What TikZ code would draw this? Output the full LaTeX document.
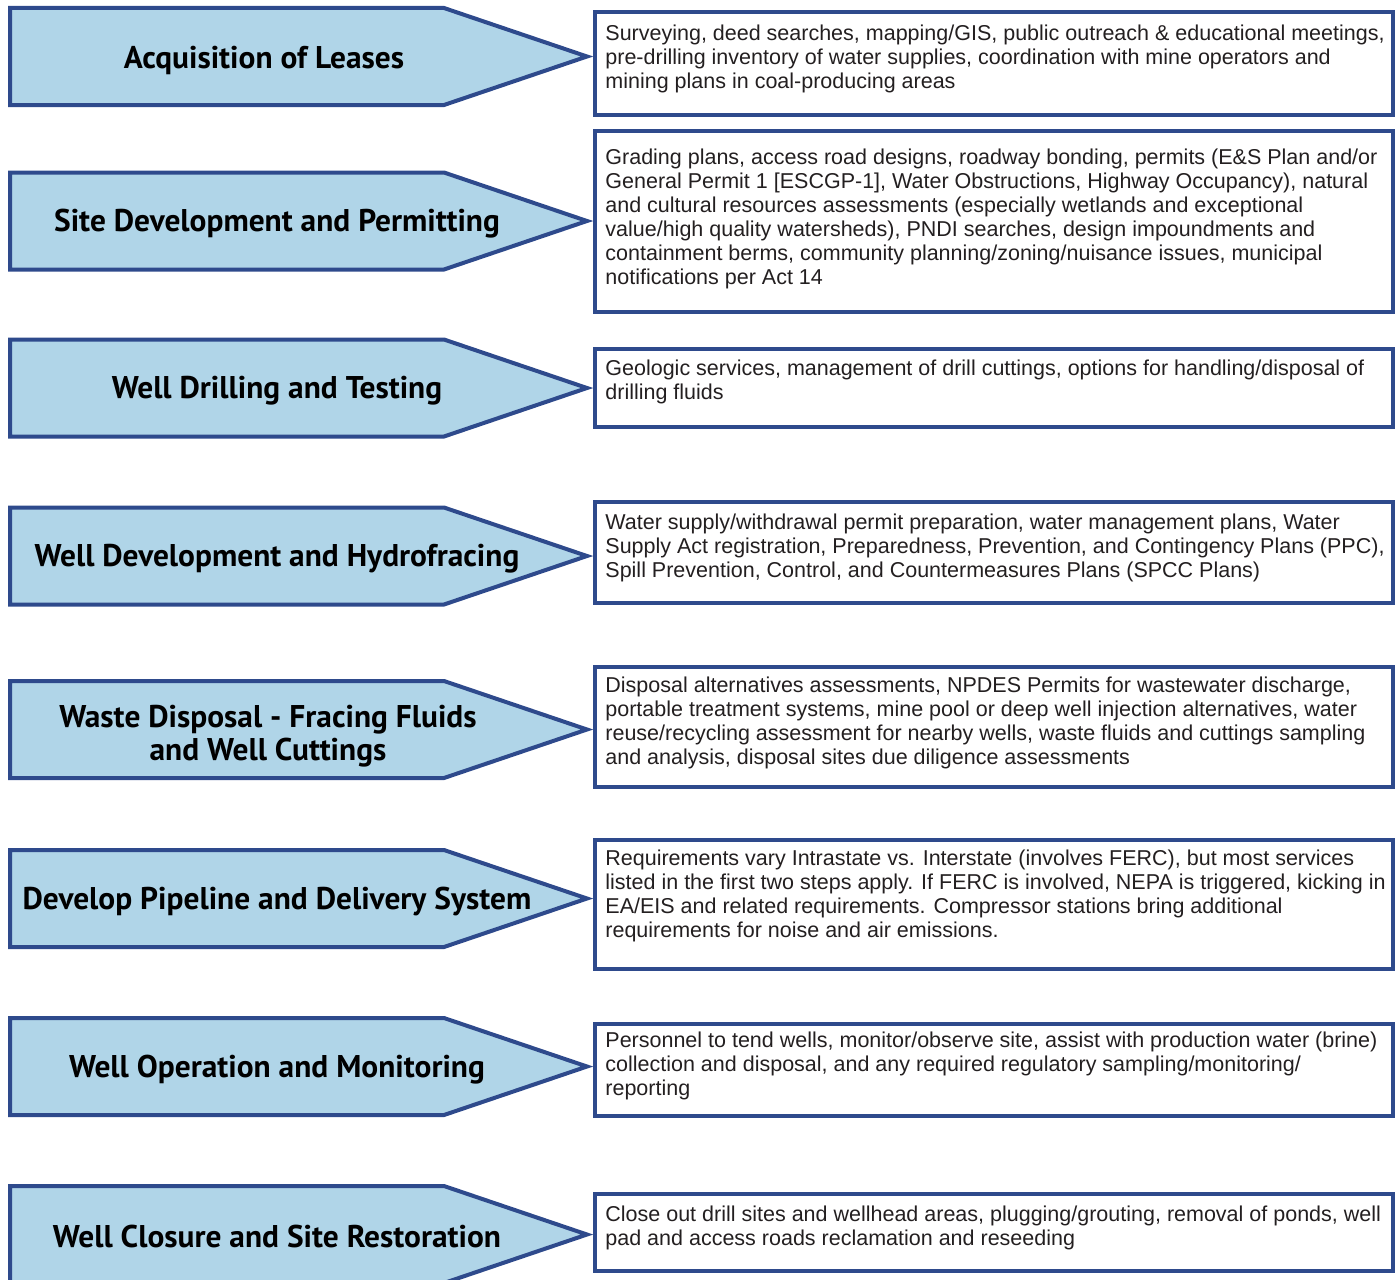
\documentclass[tikz,border=0pt]{standalone}
\usepackage{fontspec}
\setmainfont{Liberation Sans}
\newfontfamily\labelfont{PT Sans}
\usetikzlibrary{positioning}

\definecolor{phasefill}{HTML}{B0D5E8}
\definecolor{phaseline}{HTML}{2E4A8C}
\definecolor{desccol}{HTML}{231F20}

\begin{document}
\begin{tikzpicture}[x=0.5pt,y=0.5pt,
    phase/.style={draw=phaseline,line width=2pt,fill=phasefill,line join=miter},
    phaselabel/.style={font={\labelfont\bfseries\fontsize{15.7pt}{16.5pt}\selectfont},inner sep=0pt,align=center},
    descbox/.style={draw=phaseline,line width=2pt,anchor=north west,outer sep=0pt,inner sep=0pt,minimum width=399pt},
    desctext/.style={font={\fontsize{10.75pt}{12pt}\selectfont},text=desccol,align=left,inner sep=0pt}]
    \useasboundingbox (0,0) rectangle (1400,-1279);

    % the eight phases
    \draw[phase] (10,-8) -- (444,-8) -- (587,-56.5) -- (444,-105) -- (10,-105) -- cycle;
    \draw[phase] (10,-172.5) -- (444,-172.5) -- (587,-221) -- (444,-269.5) -- (10,-269.5) -- cycle;
    \draw[phase] (10,-339.5) -- (444,-339.5) -- (587,-388) -- (444,-436.5) -- (10,-436.5) -- cycle;
    \draw[phase] (10,-507.5) -- (444,-507.5) -- (587,-556) -- (444,-604.5) -- (10,-604.5) -- cycle;
    \draw[phase] (10,-681) -- (444,-681) -- (587,-729.5) -- (444,-778) -- (10,-778) -- cycle;
    \draw[phase] (10,-850) -- (444,-850) -- (587,-898.5) -- (444,-947) -- (10,-947) -- cycle;
    \draw[phase] (10,-1018) -- (444,-1018) -- (587,-1066.5) -- (444,-1115) -- (10,-1115) -- cycle;
    \draw[phase] (10,-1186) -- (444,-1186) -- (587,-1234.5) -- (444,-1283) -- (10,-1283) -- cycle;

    \node[phaselabel] (p1) at (264,-60) {Acquisition of Leases};
    \node[phaselabel] (p2) at (277,-224) {Site Development and Permitting};
    \node[phaselabel] (p3) at (277,-391) {Well Drilling and Testing};
    \node[phaselabel] (p4) at (277,-559) {Well Development and Hydrofracing};
    \node[phaselabel] (p5) at (268,-736) {Waste Disposal - Fracing Fluids\\and Well Cuttings};
    \node[phaselabel] (p6) at (277,-901.5) {Develop Pipeline and Delivery System};
    \node[phaselabel] (p7) at (277,-1069.5) {Well Operation and Monitoring};
    \node[phaselabel] (p8) at (277,-1236) {Well Closure and Site Restoration};

    % services for each phase
    \node[descbox,minimum height=51.5pt] (b1) at (595,-12) {};
    \node[descbox,minimum height=90.5pt] (b2) at (595,-131) {};
    \node[descbox,minimum height=39pt] (b3) at (595,-349) {};
    \node[descbox,minimum height=50.5pt] (b4) at (595,-502) {};
    \node[descbox,minimum height=60pt] (b5) at (595,-667) {};
    \node[descbox,minimum height=64.5pt] (b6) at (595,-840) {};
    \node[descbox,minimum height=46pt] (b7) at (595,-1024) {};
    \node[descbox,minimum height=38.5pt] (b8) at (595,-1194) {};

    \node[desctext] (d1) [below right=6.5pt and 5pt of b1.north west] {Surveying, deed searches, mapping/GIS, public outreach \& educational meetings,\\pre-drilling inventory of water supplies, coordination with mine operators and\\mining plans in coal-producing areas};
    \node[desctext] (d2) [below right=9pt and 5pt of b2.north west] {Grading plans, access road designs, roadway bonding, permits (E\&S Plan and/or\\General Permit 1 [ESCGP-1], Water Obstructions, Highway Occupancy), natural\\and cultural resources assessments (especially wetlands and exceptional\\value/high quality watersheds), PNDI searches, design impoundments and\\containment berms, community planning/zoning/nuisance issues, municipal\\notifications per Act 14};
    \node[desctext] (d3) [below right=5.5pt and 5pt of b3.north west] {Geologic services, management of drill cuttings, options for handling/disposal of\\drilling fluids};
    \node[desctext] (d4) [below right=6pt and 5pt of b4.north west] {Water supply/withdrawal permit preparation, water management plans, Water\\Supply Act registration, Preparedness, Prevention, and Contingency Plans (PPC),\\Spill Prevention, Control, and Countermeasures Plans (SPCC Plans)};
    \node[desctext] (d5) [below right=5pt and 5pt of b5.north west] {Disposal alternatives assessments, NPDES Permits for wastewater discharge,\\portable treatment systems, mine pool or deep well injection alternatives, water\\reuse/recycling assessment for nearby wells, waste fluids and cuttings sampling\\and analysis, disposal sites due diligence assessments};
    \node[desctext] (d6) [below right=5pt and 5pt of b6.north west] {Requirements vary Intrastate vs. Interstate (involves FERC), but most services\\listed in the first two steps apply. If FERC is involved, NEPA is triggered, kicking in\\EA/EIS and related requirements. Compressor stations bring additional\\requirements for noise and air emissions.};
    \node[desctext] (d7) [below right=4pt and 5pt of b7.north west] {Personnel to tend wells, monitor/observe site, assist with production water (brine)\\collection and disposal, and any required regulatory sampling/monitoring/\\reporting};
    \node[desctext] (d8) [below right=5.5pt and 5pt of b8.north west] {Close out drill sites and wellhead areas, plugging/grouting, removal of ponds, well\\pad and access roads reclamation and reseeding};
\end{tikzpicture}
\end{document}
